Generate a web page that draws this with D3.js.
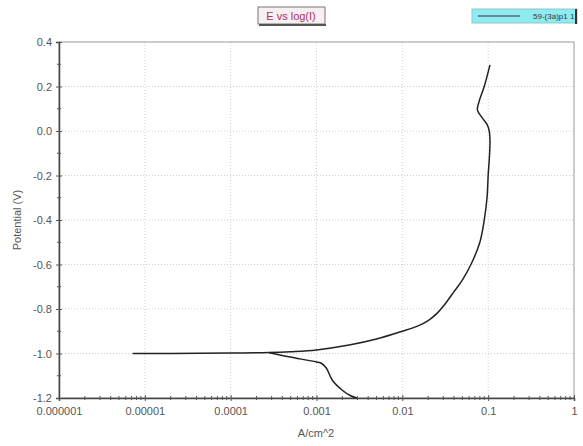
<!DOCTYPE html>
<html>
<head>
<meta charset="utf-8">
<script src="https://cdn.jsdelivr.net/npm/d3@7"></script>
<style>
  body { margin: 0; background: #fff; }
  text { font-family: "Liberation Sans", Arial, sans-serif; }
</style>
</head>
<body>
<div id="chart"></div>
<script>
// anodic branch (from corrosion region up to +0.3 V)
const anodicI = [7.2e-6, 2e-5, 1e-4, 2.8e-4, 5e-4, 1e-3, 2.4e-3, 5e-3, 1e-2, 0.015, 0.02, 0.025, 0.03, 0.04, 0.05, 0.063, 0.08, 0.09, 0.097, 0.1, 0.104, 0.105, 0.103, 0.097, 0.085, 0.075, 0.078, 0.09, 0.105];
const anodicE = [-1.0, -1.0, -0.998, -0.996, -0.992, -0.984, -0.962, -0.935, -0.9, -0.877, -0.852, -0.822, -0.788, -0.722, -0.67, -0.6, -0.5, -0.4, -0.3, -0.2, -0.1, -0.04, 0.0, 0.03, 0.06, 0.094, 0.13, 0.2, 0.297];
// cathodic branch
const cathodicI = [2.8e-4, 4.9e-4, 1.0e-3, 1.15e-3, 1.3e-3, 1.53e-3, 2.0e-3, 2.5e-3, 2.95e-3];
const cathodicE = [-0.997, -1.016, -1.038, -1.045, -1.065, -1.12, -1.165, -1.19, -1.2];

const xTicks = [1e-6, 1e-5, 1e-4, 1e-3, 1e-2, 1e-1, 1];
const xTickLabels = ["0.000001", "0.00001", "0.0001", "0.001", "0.01", "0.1", "1"];
const yTicks = [0.4, 0.2, 0.0, -0.2, -0.4, -0.6, -0.8, -1.0, -1.2];

const margin = {top: 42, right: 9, bottom: 48, left: 59},
    width = 583 - margin.left - margin.right,
    height = 446 - margin.top - margin.bottom;

var svg = d3.select("#chart")
  .append("svg")
    .attr("width", 583)
    .attr("height", 446);

var g = svg.append("g")
    .attr("transform", "translate(" + margin.left + "," + margin.top + ")");

var x = d3.scaleLog()
  .domain([1e-6, 1])
  .range([0, width]);

var y = d3.scaleLinear()
  .domain([-1.2, 0.4])
  .range([height, 0]);

// grid
g.append("g")
  .selectAll("line")
  .data(xTicks.slice(1, -1))
  .enter().append("line")
  .attr("x1", d => x(d)).attr("x2", d => x(d))
  .attr("y1", 0).attr("y2", height)
  .attr("stroke", "#cfcfcf")
  .attr("stroke-dasharray", "1,2");

g.append("g")
  .selectAll("line")
  .data(yTicks.slice(1, -1))
  .enter().append("line")
  .attr("x1", 0).attr("x2", width)
  .attr("y1", d => y(d)).attr("y2", d => y(d))
  .attr("stroke", "#cfcfcf")
  .attr("stroke-dasharray", "1,2");

// frame
g.append("rect")
  .attr("width", width)
  .attr("height", height)
  .attr("fill", "none")
  .attr("stroke", "#9a9a9a");

// minor x ticks
var minorX = [];
for (let e = -6; e < 0; e++) {
  for (let m = 2; m <= 9; m++) minorX.push(m * Math.pow(10, e));
}

var xAxis = g.append("g")
  .attr("transform", `translate(0,${height})`)
  .call(d3.axisBottom(x).tickValues(xTicks).tickSize(3).tickPadding(6)
    .tickFormat((d, i) => xTickLabels[i]));
xAxis.selectAll(".tick line").attr("y1", -3).attr("stroke", "#555");
xAxis.select(".domain").attr("stroke", "#444").attr("stroke-width", 1.5);
xAxis.selectAll("text").attr("fill", "#555").style("font-size", "11px");

g.append("g")
  .selectAll("line")
  .data(minorX)
  .enter().append("line")
  .attr("x1", d => x(d)).attr("x2", d => x(d))
  .attr("y1", height - 2).attr("y2", height + 2)
  .attr("stroke", "#555");

var yAxis = g.append("g")
  .call(d3.axisLeft(y).tickValues(yTicks).tickSize(3).tickPadding(4)
    .tickFormat(d => d.toFixed(1)));
yAxis.selectAll(".tick line").attr("x1", 3).attr("stroke", "#555");
yAxis.select(".domain").attr("stroke", "#444").attr("stroke-width", 1.5);
yAxis.selectAll("text").attr("fill", "#555").style("font-size", "11px");

g.append("g")
  .selectAll("line")
  .data(d3.range(-1.1, 0.4, 0.2))
  .enter().append("line")
  .attr("x1", -2).attr("x2", 2)
  .attr("y1", d => y(d)).attr("y2", d => y(d))
  .attr("stroke", "#555");

// curves
var line = d3.line()
  .x(d => x(d[0]))
  .y(d => y(d[1]))
  .curve(d3.curveCatmullRom);

g.append("path")
  .datum(d3.zip(anodicI, anodicE))
  .attr("fill", "none")
  .attr("stroke", "#222")
  .attr("stroke-width", 1.5)
  .attr("d", line);

g.append("path")
  .datum(d3.zip(cathodicI, cathodicE))
  .attr("fill", "none")
  .attr("stroke", "#222")
  .attr("stroke-width", 1.5)
  .attr("d", line);

// axis labels
svg.append("text")
  .attr("text-anchor", "middle")
  .attr("transform", "translate(21,220) rotate(-90)")
  .attr("fill", "#555")
  .style("font-size", "11px")
  .text("Potential (V)");

svg.append("text")
  .attr("text-anchor", "middle")
  .attr("x", 316)
  .attr("y", 437)
  .attr("fill", "#555")
  .style("font-size", "11px")
  .text("A/cm^2");

// title box
svg.append("rect")
  .attr("x", 258).attr("y", 7)
  .attr("width", 67).attr("height", 17)
  .attr("fill", "#f6f0f2")
  .attr("stroke", "#777");
svg.append("line")
  .attr("x1", 259).attr("x2", 326).attr("y1", 25).attr("y2", 25)
  .attr("stroke", "#555").attr("stroke-width", 2);
svg.append("text")
  .attr("text-anchor", "middle")
  .attr("x", 291).attr("y", 20)
  .attr("fill", "#b03060")
  .style("font-size", "11px")
  .text("E vs log(I)");

// legend
svg.append("rect")
  .attr("x", 472).attr("y", 9)
  .attr("width", 105).attr("height", 14)
  .attr("fill", "#8febf0")
  .attr("stroke", "#8cc");
svg.append("line")
  .attr("x1", 576).attr("x2", 576).attr("y1", 9).attr("y2", 24)
  .attr("stroke", "#333").attr("stroke-width", 2);
svg.append("line")
  .attr("x1", 478).attr("x2", 520).attr("y1", 16).attr("y2", 16)
  .attr("stroke", "#333").attr("stroke-width", 1);
svg.append("text")
  .attr("x", 533).attr("y", 19)
  .attr("fill", "#333")
  .style("font-size", "8px")
  .text("59-(3a)p1 1");
</script>
</body>
</html>
